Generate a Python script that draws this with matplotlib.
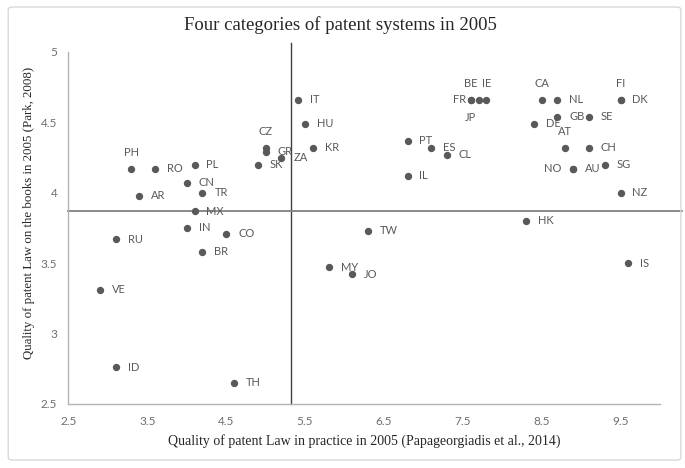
import matplotlib.pyplot as plt
from matplotlib.patches import FancyBboxPatch

# data
countries = ['IT', 'HU', 'KR', 'CZ', 'GR', 'ZA', 'SK', 'PH', 'RO', 'PL',
             'CN', 'TR', 'AR', 'MX', 'IN', 'CO', 'RU', 'BR', 'VE', 'ID',
             'TH', 'TW', 'MY', 'JO', 'HK', 'IS', 'NZ', 'PT', 'ES', 'CL',
             'IL', 'FR', 'BE', 'JP', 'IE', 'CA', 'NL', 'DK', 'FI', 'GB',
             'SE', 'DE', 'AT', 'CH', 'NO', 'AU', 'SG']
practice = [5.41, 5.50, 5.60, 5.00, 5.00, 5.20, 4.90, 3.30, 3.60, 4.10,
            4.00, 4.20, 3.40, 4.10, 4.00, 4.50, 3.10, 4.20, 2.90, 3.10,
            4.60, 6.30, 5.80, 6.10, 8.30, 9.60, 9.50, 6.80, 7.10, 7.30,
            6.80, 7.70, 7.60, 7.60, 7.80, 8.50, 8.70, 9.50, 9.50, 8.70,
            9.10, 8.40, 8.80, 9.10, 8.90, 8.90, 9.30]
books = [4.66, 4.49, 4.32, 4.32, 4.29, 4.25, 4.20, 4.17, 4.17, 4.20,
         4.07, 4.00, 3.98, 3.87, 3.75, 3.71, 3.67, 3.58, 3.31, 2.76,
         2.65, 3.73, 3.47, 3.42, 3.80, 3.50, 4.00, 4.37, 4.32, 4.27,
         4.12, 4.66, 4.66, 4.66, 4.66, 4.66, 4.66, 4.66, 4.66, 4.54,
         4.54, 4.49, 4.32, 4.32, 4.17, 4.17, 4.20]
practice_cut = 5.32
books_cut = 3.87

x_ticks = [2.5, 3.5, 4.5, 5.5, 6.5, 7.5, 8.5, 9.5]
y_ticks = [2.5, 3, 3.5, 4, 4.5, 5]

# where the label sits relative to its point (default: right)
label_side = {'CZ': 'above', 'PH': 'above', 'CA': 'above', 'BE': 'above',
              'IE': 'above', 'FI': 'above', 'AT': 'above', 'JP': 'below',
              'FR': 'left', 'NO': 'left'}

grey = '#595959'
label_font = 'Lato'
serif = 'Liberation Serif'

fig = plt.figure(figsize=(6.85, 4.68), dpi=100)
fig.patches.append(FancyBboxPatch((0.012, 0.017), 0.982, 0.968,
                                  boxstyle='round,pad=0,rounding_size=0.006',
                                  transform=fig.transFigure, fill=False,
                                  edgecolor='#d9d9d9', linewidth=1.0))
ax = fig.add_axes([0.0997, 0.1368, 0.8638, 0.7521])

ax.scatter(practice, books, s=28, color=grey, zorder=3, linewidths=0)

offsets = {'right': ((8.6, 0), 'left', 'center'),
           'left': ((-8.6, 0), 'right', 'center'),
           'above': ((0, 12), 'center', 'center'),
           'below': ((0, -13), 'center', 'center')}
for c, x, y in zip(countries, practice, books):
    off, ha, va = offsets[label_side.get(c, 'right')]
    ax.annotate(c, (x, y), xytext=off, textcoords='offset points',
                ha=ha, va=va, fontsize=8, color=grey, family=label_font)

# quadrant lines
ax.plot([practice_cut, practice_cut], [2.5, 5.065], color='#404040',
        linewidth=1.0, clip_on=False, zorder=2)
ax.plot([2.5, 10.28], [books_cut, books_cut], color='#808080',
        linewidth=1.3, clip_on=False, zorder=2)

ax.set_xlim(2.5, 10.0)
ax.set_ylim(2.5, 5.0)
ax.set_xticks(x_ticks)
ax.set_xticklabels([f'{t:g}' for t in x_ticks])
ax.set_yticks(y_ticks)
ax.set_yticklabels([f'{t:g}' for t in y_ticks])
ax.tick_params(length=0, labelsize=8.5, labelcolor='#6e6e6e')
ax.tick_params(axis='x', pad=9)
ax.tick_params(axis='y', pad=8)
for lab in ax.get_xticklabels() + ax.get_yticklabels():
    lab.set_family(label_font)

for side in ['top', 'right']:
    ax.spines[side].set_visible(False)
for side in ['left', 'bottom']:
    ax.spines[side].set_color('#b3b3b3')
    ax.spines[side].set_linewidth(1.0)

ax.set_xlabel('Quality of patent Law in practice in 2005 (Papageorgiadis et al., 2014)',
              family=serif, fontsize=10, color='#262626', labelpad=5)
ax.set_ylabel('Quality of patent Law on the books in 2005 (Park, 2008)',
              family=serif, fontsize=9.3, color='#262626')
ax.yaxis.set_label_coords(-0.056, 0.543)
fig.text(0.497, 0.947, 'Four categories of patent systems in 2005',
         ha='center', va='center', family=serif, fontsize=13.5, color='#262626')

fig.savefig('out.png', dpi=100)
